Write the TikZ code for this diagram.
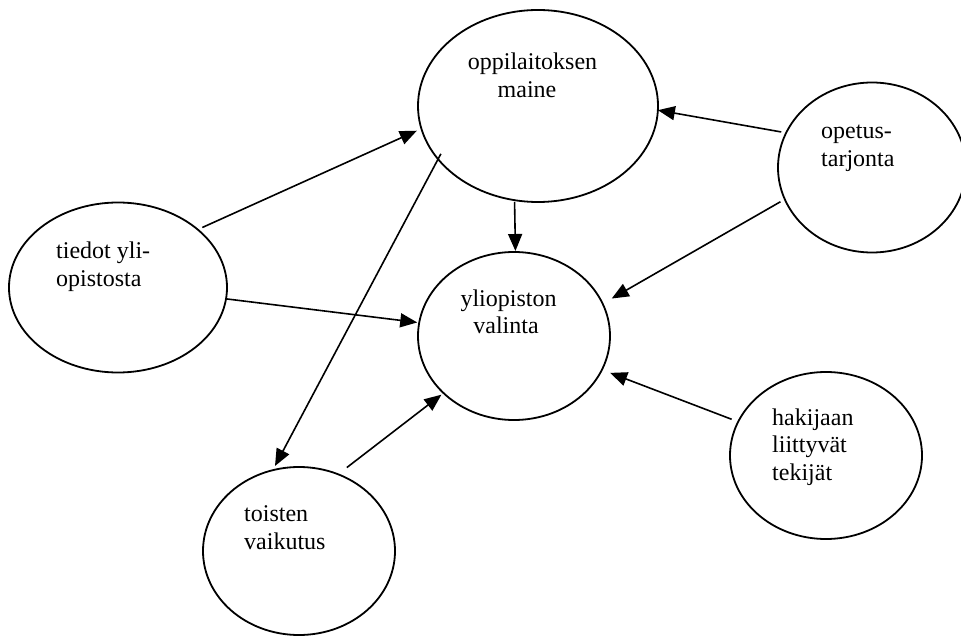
\documentclass[tikz,border=0pt]{standalone}
\usepackage{fontspec}
\setmainfont{Liberation Serif}
\usetikzlibrary{arrows.meta,shapes.geometric}

\begin{document}
\begin{tikzpicture}[x=1pt,y=-1pt,
  bubble/.style={ellipse, draw, line width=1.8pt, inner sep=0pt, outer sep=0pt},
  txt/.style={inner sep=0pt, font=\fontsize{24}{28}\selectfont},
  arr/.style={line width=1.6pt, -{Triangle[length=17pt,width=14pt]}}]
\useasboundingbox (0,0) rectangle (961,636);

% factor bubbles
\node[bubble, minimum width=240pt, minimum height=192pt] (opp) at (538,106) {};
\node[bubble, minimum width=188pt, minimum height=170pt] (ope) at (872,167.5) {};
\node[bubble, minimum width=218pt, minimum height=170pt] (tie) at (118,287.5) {};
\node[bubble, minimum width=192pt, minimum height=168pt] (yli) at (514,336) {};
\node[bubble, minimum width=192pt, minimum height=167pt] (hak) at (826,455.5) {};
\node[bubble, minimum width=192pt, minimum height=168pt] (toi) at (299,551) {};

% labels, one line per node
\node[txt, anchor=base] (opp-a) at (532.5,70) {oppilaitoksen};
\node[txt, anchor=base] (opp-b) at (527,97.3) {maine};
\node[txt, anchor=base west] (ope-a) at (821,138.3) {opetus-};
\node[txt, anchor=base west] (ope-b) at (821,166.5) {tarjonta};
\node[txt, anchor=base west] (tie-a) at (56,259) {tiedot yli-};
\node[txt, anchor=base west] (tie-b) at (56,286.7) {opistosta};
\node[txt, anchor=base] (yli-a) at (508.5,307) {yliopiston};
\node[txt, anchor=base] (yli-b) at (506,334) {valinta};
\node[txt, anchor=base west] (hak-a) at (772,425) {hakijaan};
\node[txt, anchor=base west] (hak-b) at (772,452.7) {liittyvät};
\node[txt, anchor=base west] (hak-c) at (772,480.5) {tekijät};
\node[txt, anchor=base west] (toi-a) at (244,521.7) {toisten};
\node[txt, anchor=base west] (toi-b) at (244,549.5) {vaikutus};

% influences
\draw[arr, shorten <=5pt, shorten >=5pt] (tie.36.4) -- (opp.191.6);
\draw[arr, shorten <=1pt, shorten >=2pt] (tie.354) -- (yli.172.4);
\draw[arr, shorten <=1.8pt, shorten >=1pt] (opp.256.3) -- (yli.89.3);
\draw[arr, shorten <=-6pt, shorten >=4.8pt] (opp.208.8) -- (toi.108);
\draw[arr, shorten <=5pt, shorten >=0pt] (ope.158.3) -- (opp.358.9);
\draw[arr, shorten <=5pt, shorten >=10.5pt] (ope.200.2) -- (yli.20.2);
\draw[arr, shorten <=7pt, shorten >=8.8pt] (hak.159.4) -- (yli.339.9);
\draw[arr, shorten <=11pt, shorten >=2.7pt] (toi.63.6) -- (yli.219.3);
\end{tikzpicture}
\end{document}
